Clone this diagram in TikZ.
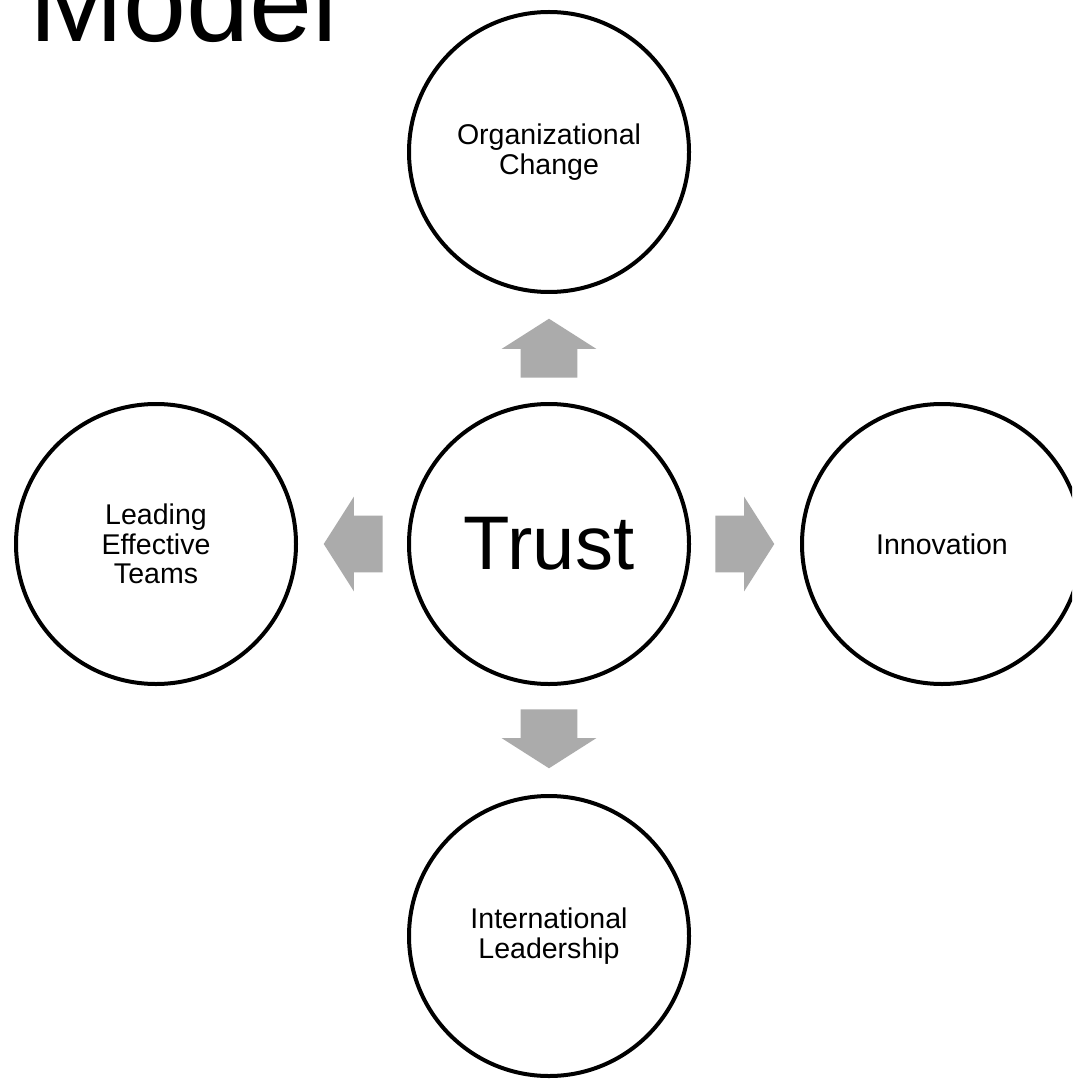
\documentclass[tikz,border=0pt]{standalone}
\usepackage{fontspec}
\setmainfont{Liberation Sans}
\usetikzlibrary{shapes}
\definecolor{arrowgray}{HTML}{ABABAB}

\begin{document}
\begin{tikzpicture}[x=0.75pt,y=-0.75pt,
    topic/.style={draw, circle, line width=3pt, minimum size=210pt, inner sep=0pt,
        align=center, font=\fontsize{21.4}{22}\selectfont},
    blockarrow/.style={single arrow, fill=arrowgray, draw=none, inner xsep=0pt, inner ysep=21pt,
        minimum height=44.25pt, single arrow head extend=14.25pt,
        single arrow tip angle=115, anchor=tail}]
    \useasboundingbox (0,0) rectangle (1072,1080);
    \clip (0,0) rectangle (1072,1080);
    \node[anchor=base west, inner sep=0pt, font=\fontsize{85}{85}\selectfont] (title) at (29,42) {Model};
    \node[topic, font=\fontsize{57}{57}\selectfont] (trust) at (549,544) {Trust};
    \node[topic] (change) at (549,152) {Organizational\\Change};
    \node[topic] (teams) at (156,544) {Leading\\Effective\\Teams};
    \node[topic] (innovation) at (942,544) {Innovation};
    \node[topic] (leadership) at (549,936) {International\\Leadership};
    \node[blockarrow, rotate=90] (upArr) at (549,378) {};
    \node[blockarrow, rotate=180] (leftArr) at (383,544) {};
    \node[blockarrow] (rightArr) at (715,544) {};
    \node[blockarrow, rotate=-90] (downArr) at (549,709) {};
\end{tikzpicture}
\end{document}
